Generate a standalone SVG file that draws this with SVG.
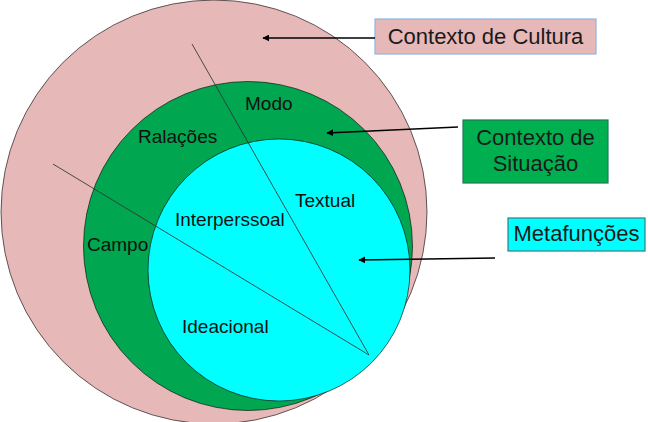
<svg xmlns="http://www.w3.org/2000/svg" width="648" height="422" viewBox="0 0 648 422">
  <defs>
    <marker id="arrowhead" viewBox="0 0 10 10" refX="9" refY="5" markerWidth="7" markerHeight="7" orient="auto" markerUnits="userSpaceOnUse">
      <path d="M0,0 L10,5 L0,10 z" fill="#000"/>
    </marker>
    <style>
      .ring { stroke: #000; stroke-opacity: 0.6; stroke-width: 1; }
      .label { font-family: "Liberation Sans", Arial, sans-serif; font-size: 19px; fill: #111; }
      .box-text { font-family: "Liberation Sans", Arial, sans-serif; font-size: 22px; fill: #1a1a1a; }
      .divider { stroke: #333; stroke-opacity: 0.85; stroke-width: 1; fill: none; }
      .pointer { stroke: #000; stroke-width: 1.3; fill: none; marker-end: url(#arrowhead); }
    </style>
  </defs>
  <rect width="648" height="422" fill="#fff"/>

  <!-- nested context rings -->
  <g id="cultura-ring">
    <ellipse class="ring" cx="214" cy="212" rx="213" ry="212" fill="#e6b9b8"/>
  </g>
  <g id="situacao-ring">
    <circle class="ring" cx="248" cy="246" r="164.5" fill="#00a650"/>
  </g>
  <g id="metafuncoes-ring">
    <circle class="ring" cx="279" cy="270" r="131" fill="#00ffff"/>
  </g>

  <!-- sector dividers -->
  <g id="dividers">
    <line class="divider" x1="192" y1="44" x2="369" y2="355"/>
    <line class="divider" x1="53" y1="164" x2="369" y2="355"/>
  </g>

  <!-- ring labels -->
  <g id="ring-labels">
    <text class="label" x="245" y="110">Modo</text>
    <text class="label" x="138" y="143">Ralações</text>
    <text class="label" x="295" y="207">Textual</text>
    <text class="label" x="175" y="226">Interperssoal</text>
    <text class="label" x="87" y="251">Campo</text>
    <text class="label" x="182" y="333">Ideacional</text>
  </g>

  <!-- callout boxes -->
  <g id="box-cultura">
    <rect x="375" y="19" width="221" height="35" fill="#e6b9b8" stroke="#8eb4e3" stroke-width="1.2"/>
    <text class="box-text" x="485.5" y="44" text-anchor="middle">Contexto de Cultura</text>
  </g>
  <g id="box-situacao">
    <rect x="463" y="120" width="145" height="63" fill="#00b050" stroke="#1f7a5a" stroke-width="1.2"/>
    <text class="box-text" x="535.5" y="145" text-anchor="middle">Contexto de</text>
    <text class="box-text" x="535.5" y="171" text-anchor="middle">Situação</text>
  </g>
  <g id="box-metafuncoes">
    <rect x="508" y="218" width="137" height="33" fill="#00ffff" stroke="#2f7f86" stroke-width="1.2"/>
    <text class="box-text" x="576.5" y="241" text-anchor="middle">Metafunções</text>
  </g>

  <!-- pointers from boxes into rings -->
  <g id="connectors">
    <line class="pointer" x1="375" y1="38" x2="263" y2="38"/>
    <line class="pointer" x1="458" y1="127" x2="327" y2="133"/>
    <line class="pointer" x1="495" y1="258" x2="359" y2="260"/>
  </g>
</svg>
